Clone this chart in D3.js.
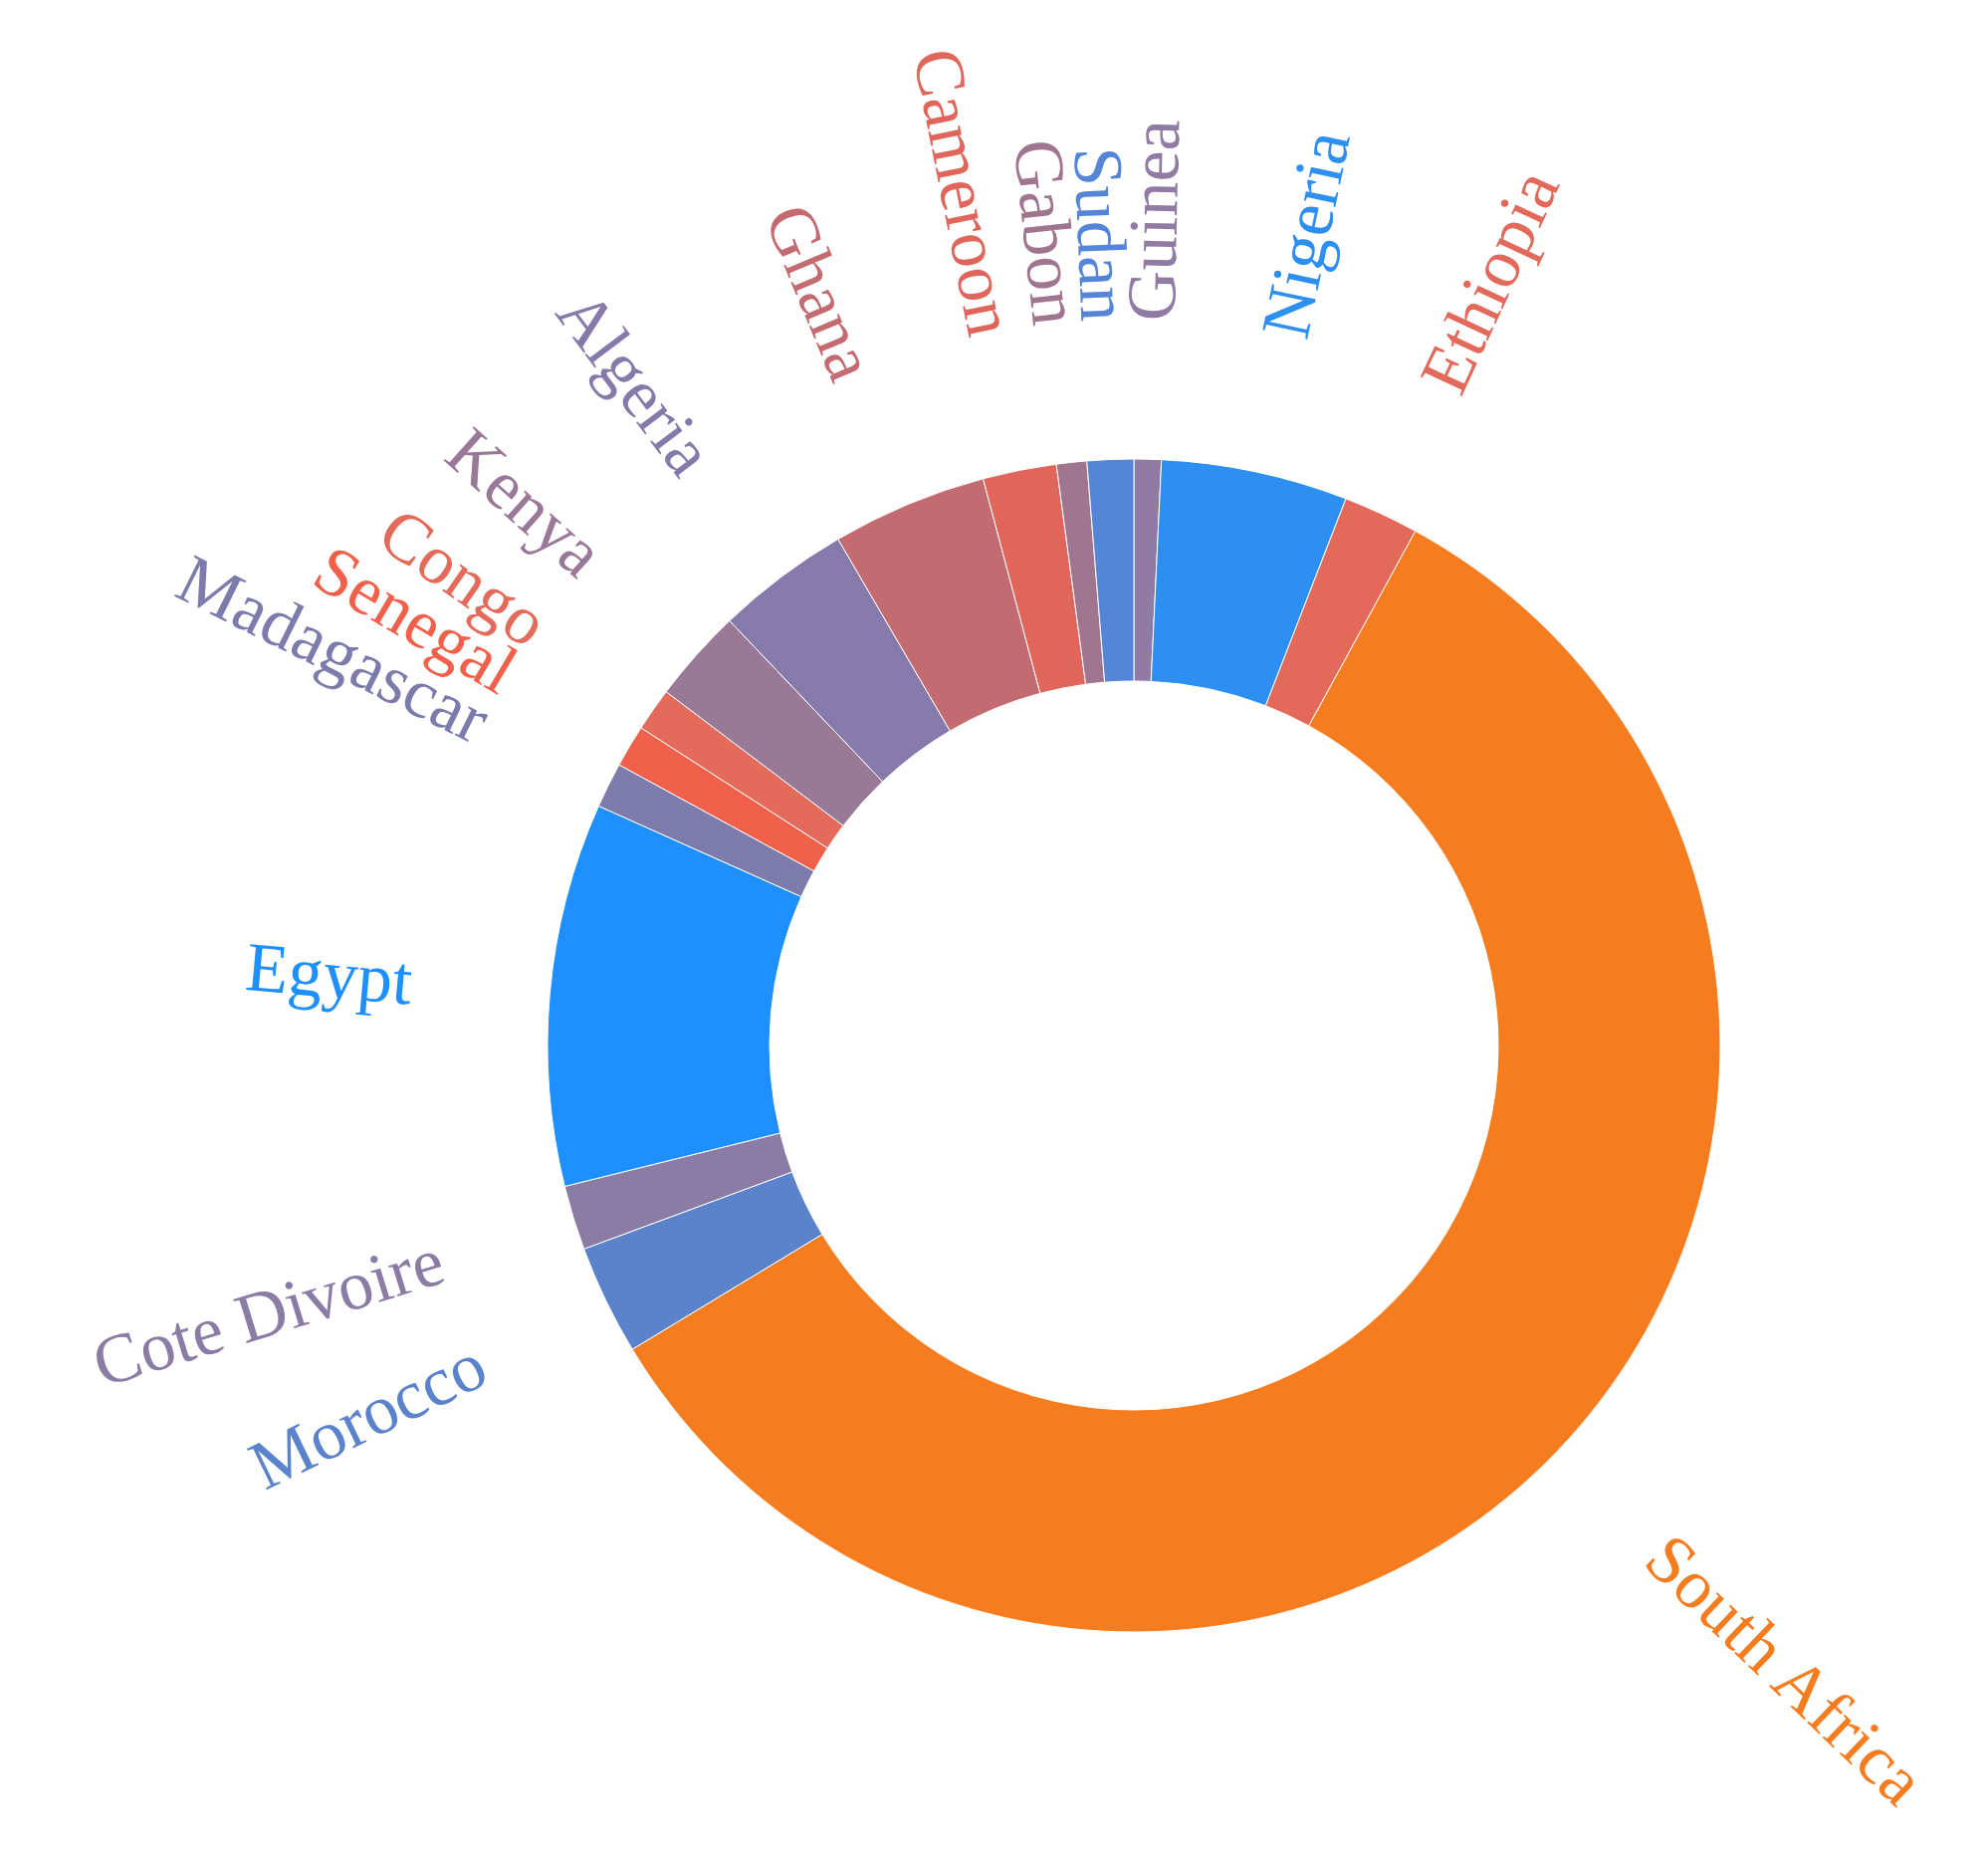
<!DOCTYPE html>
<html><head><meta charset="utf-8">
<script src="https://cdn.jsdelivr.net/npm/d3@7"></script>
<style>body{margin:0;background:#fff}</style>
</head><body><svg width="1997" height="1871"></svg>
<script>
// slice order clockwise from 12 o'clock
const countries = ["Guinea","Nigeria","Ethiopia","South Africa","Morocco","Cote Divoire","Egypt","Madagascar","Senegal","Congo","Kenya","Algeria","Ghana","Cameroon","Gabon","Sudan"];
const shares = [2.7,18.5,7.5,210.1,10.9,6.4,38.0,4.5,4.2,4.3,9.3,13.3,15.4,7.3,3.0,4.6];
const colors = ["#8f7ba3","#2d8ff0","#e3695a","#f57d1f","#5a83cc","#8b7ca6","#1e8fff","#7d7bab","#f0604a","#e46a5a","#9a7897","#857aaa","#c46b72","#e0655a","#a0758f","#5585d6"];

const svg = d3.select("svg");
const cx = 1139, cy = 1050, rOut = 589, rIn = 366, rLab = 728;
const g = svg.append("g").attr("transform", `translate(${cx},${cy})`);

const data = countries.map((c,i) => ({name:c, v:shares[i], col:colors[i]}));
const pie = d3.pie().value(d => d.v).sort(null);
const arcs = pie(data);
const arc = d3.arc().innerRadius(rIn).outerRadius(rOut);

g.selectAll("path").data(arcs).enter().append("path")
  .attr("d", arc).attr("fill", d => d.data.col)
  .attr("stroke", "#fff").attr("stroke-width", 1);

g.selectAll("text").data(arcs).enter().append("text")
  .each(function(d){
    const a = (d.startAngle + d.endAngle) / 2;
    const deg = a * 180 / Math.PI;
    const x = rLab * Math.sin(a), y = -rLab * Math.cos(a);
    const right = deg < 180;
    const rot = right ? deg - 90 : deg + 90;
    d3.select(this).attr("transform", `translate(${x},${y}) rotate(${rot})`)
      .attr("text-anchor", right ? "start" : "end");
  })
  .attr("dominant-baseline", "central")
  .attr("font-family", "Liberation Serif, serif")
  .attr("font-size", 70)
  .attr("fill", d => d.data.col)
  .text(d => d.data.name);
</script></body></html>
